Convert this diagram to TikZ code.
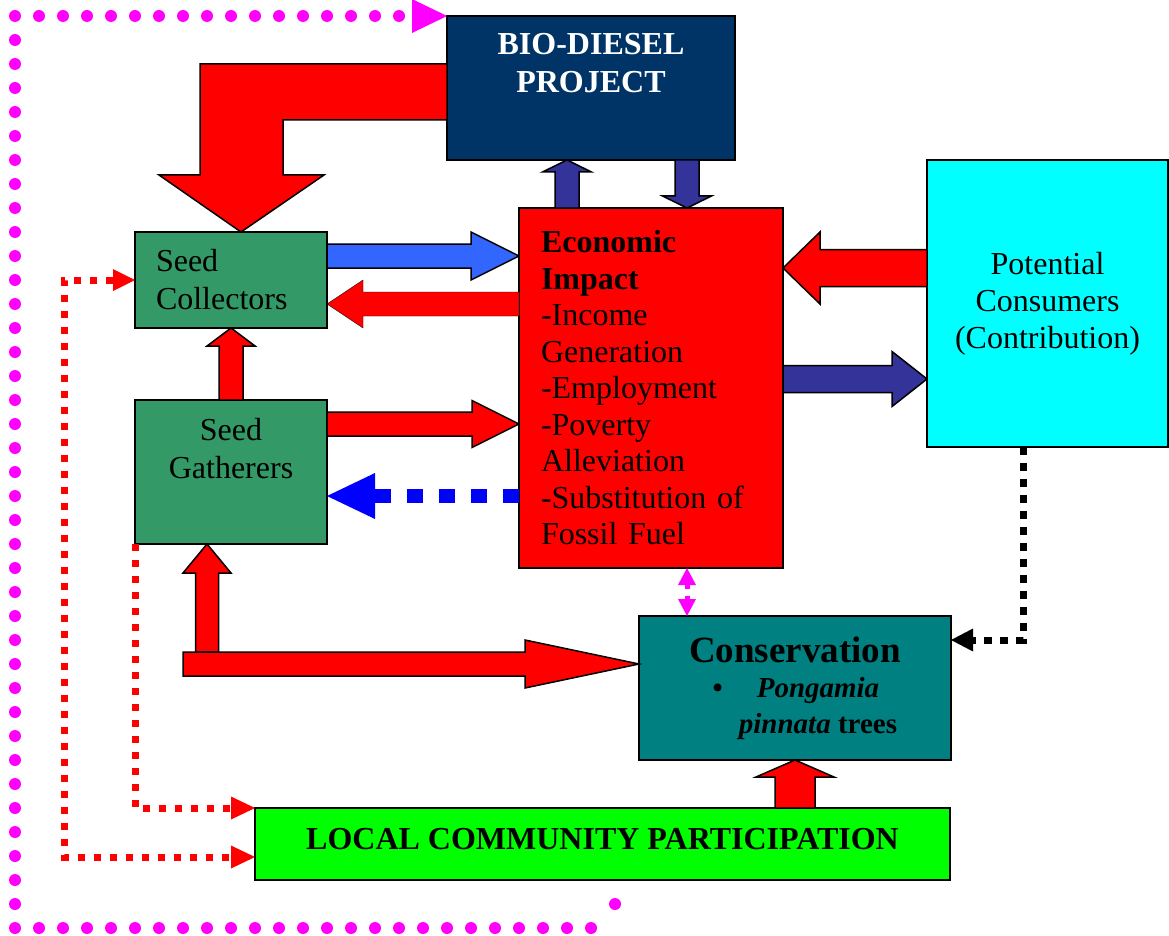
\documentclass[tikz,border=0pt]{standalone}
\usepackage{fontspec}
\setmainfont{Liberation Serif}
\usetikzlibrary{arrows.meta,calc}

\definecolor{navy}{RGB}{0,51,102}
\definecolor{seedgreen}{RGB}{51,153,102}
\definecolor{consteal}{RGB}{0,128,128}
\definecolor{collblue}{RGB}{51,102,255}
\definecolor{projblue}{RGB}{51,51,153}
\definecolor{brightgreen}{RGB}{0,255,0}
\definecolor{potcyan}{RGB}{0,255,255}
\definecolor{loopmagenta}{RGB}{255,0,255}
\definecolor{dashblue}{RGB}{0,0,255}

\newcommand\diagfont{\fontsize{32pt}{38pt}\selectfont}
% block arrow: [style]{from}{to}{half shaft}{half head}{head length}
\newcommand\fatarrow[6][]{%
  \coordinate (fas) at (#2);
  \coordinate (fae) at (#3);
  \coordinate (fah) at ($(fae)!#6!(fas)$);
  \filldraw[#1] ($(fas)!#4!90:(fae)$) -- ($(fah)!#4!90:(fae)$) -- ($(fah)!#5!90:(fae)$) -- (fae)
    -- ($(fah)!#5!-90:(fae)$) -- ($(fah)!#4!-90:(fae)$) -- ($(fas)!#4!-90:(fae)$) -- cycle;
}

\begin{document}
\begin{tikzpicture}[x=1pt,y=-1pt,
  every node/.style={font=\diagfont},
  box/.style={draw,line width=1.5pt,inner sep=0pt,outer sep=0pt,align=center},
  fatline/.style={draw=black,line width=1.5pt,line join=miter},
  bluedash/.style={dashblue,line width=14pt,dash pattern=on 16pt off 16pt,-{Triangle[length=48pt,width=46pt,line width=0pt]}},
  pinkdash/.style={loopmagenta,line width=5pt,dash pattern=on 4pt off 7pt,
    {Triangle[length=17pt,width=18pt,line width=0pt]}-{Triangle[length=17pt,width=18pt,line width=0pt]}},
  blackdots/.style={black,line width=7pt,dash pattern=on 8pt off 8pt,-{Triangle[length=22pt,width=23pt,line width=0pt]}},
  reddots/.style={red,line width=7pt,dash pattern=on 7pt off 9pt},
  magdots/.style={loopmagenta,line width=12pt,line cap=round,dash pattern=on 0pt off 24pt,-{Triangle[length=35pt,width=34pt,line width=0pt]}}]
  \useasboundingbox (0,0) rectangle (1169,936);

  \node[box,fill=navy,minimum width=288pt,minimum height=144pt,
    label={[anchor=north,yshift=-17pt,inner sep=0pt,align=center,text=white,font=\diagfont\bfseries]north:{BIO-DIESEL\\PROJECT}}] (bio) at (591,88) {};
  \node[box,fill=seedgreen,minimum height=96pt,text width=150pt,inner xsep=21pt,align=left] (coll) at (231,280) {Seed\\Collectors};
  \node[box,fill=seedgreen,minimum width=192pt,minimum height=144pt,
    label={[anchor=north,yshift=-18pt,inner sep=0pt,align=center]north:{Seed\\Gatherers}}] (gath) at (231,472) {};
  \node[box,fill=red,minimum height=360pt,text width=220pt,inner xsep=22pt,align=left,
    font=\fontsize{32pt}{36.5pt}\selectfont] (econ) at (651,388)
    {\textbf{Economic}\\ \textbf{Impact}\\ -Income\\ Generation\\ -Employment\\ -Poverty\\ Alleviation\\ -Substitution of\\ Fossil Fuel};
  \node[box,fill=potcyan,minimum width=241pt,minimum height=287pt,font=\fontsize{32pt}{37pt}\selectfont] (pot) at (1047.5,303.5)
    {Potential\\Consumers\\(Contribution)};
  \node[box,fill=consteal,minimum width=312pt,minimum height=144pt,font=\fontsize{29pt}{35.5pt}\selectfont\bfseries] (cons) at (795,688)
    {{\fontsize{37pt}{36pt}\selectfont Conservation}\\ \hspace*{46pt}\llap{\textbullet\hspace{34pt}}\textit{Pongamia}\\ \hspace*{46pt}\textit{pinnata} trees};
  \node[box,fill=brightgreen,minimum width=695pt,minimum height=72pt,text depth=10pt,font=\diagfont\bfseries] (lcp) at (602.5,844)
    {LOCAL COMMUNITY PARTICIPATION};

  % project feeds the seed collectors
  \coordinate (ct) at ([xshift=10pt]coll.north);
  \filldraw[fatline,fill=red] ([yshift=24pt]bio.west) -| ([xshift=-41pt,yshift=57pt]ct) -- ++(-41,0) -- (ct)
    -- ([xshift=83pt,yshift=57pt]ct) -- ++(-41,0) |- ([yshift=-32pt]bio.west) -- cycle;

  \fatarrow[fatline,fill=collblue]{[yshift=24pt]coll.east}{econ.west |- fas}{12pt}{24pt}{48pt}
  \coordinate (cb) at ([yshift=-24pt]coll.east);
  \fatarrow[fill=red]{econ.west |- cb}{cb}{12pt}{24pt}{36pt}
  \fatarrow[fatline,fill=red]{gath.north}{coll.south}{12pt}{24pt}{18pt}
  \fatarrow[fatline,fill=red]{[yshift=48pt]gath.east}{econ.west |- fas}{12pt}{23.5pt}{47pt}
  \coordinate (cd) at ([yshift=-24pt]gath.east);
  \draw[bluedash] (econ.west |- cd) -- (cd);

  \fatarrow[fatline,fill=projblue]{[xshift=-84pt]econ.north}{bio.south -| fas}{12pt}{24.5pt}{12pt}
  \fatarrow[fatline,fill=projblue]{[xshift=96pt]bio.south}{econ.north -| fas}{12pt}{24.5pt}{12pt}
  \fatarrow[fatline,fill=red]{[yshift=35.5pt]pot.west}{econ.east |- fas}{18.5pt}{36pt}{37pt}
  \coordinate (cp) at ([yshift=-75.5pt]pot.west);
  \fatarrow[fatline,fill=projblue]{econ.east |- cp}{cp}{13.5pt}{27.5pt}{35pt}

  % gatherers and conservation
  \fatarrow[fatline,fill=red]{[xshift=-24pt,yshift=-108pt]gath.south}{gath.south -| fas}{11.5pt}{24pt}{29pt}
  \fatarrow[fatline,fill=red]{[xshift=-48pt,yshift=-120pt]gath.south}{cons.west |- fas}{12pt}{24pt}{114pt}
  \fatarrow[fatline,fill=red]{lcp.north -| cons.south}{cons.south}{20pt}{39pt}{17pt}

  \coordinate (mp) at ([xshift=36pt]econ.south);
  \draw[pinkdash] (mp) -- (cons.north -| mp);
  \draw[blackdots] ([xshift=-24.5pt]pot.south) |- ([yshift=48pt]cons.east);

  % community links
  \draw[reddots,-{Triangle[length=24pt,width=23pt,line width=0pt]}] (gath.south west) |- (lcp.north west);
  \draw[reddots,{Triangle[length=22pt,width=22pt,line width=0pt]}-{Triangle[length=24pt,width=23pt,line width=0pt]}]
    (coll.west) -- ++(-71,0) |- ([yshift=-13pt]lcp.west);

  \coordinate (mstart) at ([xshift=12.5pt,yshift=-24pt]lcp.south);
  \fill[loopmagenta] (mstart) circle[radius=6];
  \draw[magdots] ([xshift=-24pt,yshift=-24pt]mstart) -| ([xshift=-432pt]bio.north west) -- (bio.north west);
\end{tikzpicture}
\end{document}
